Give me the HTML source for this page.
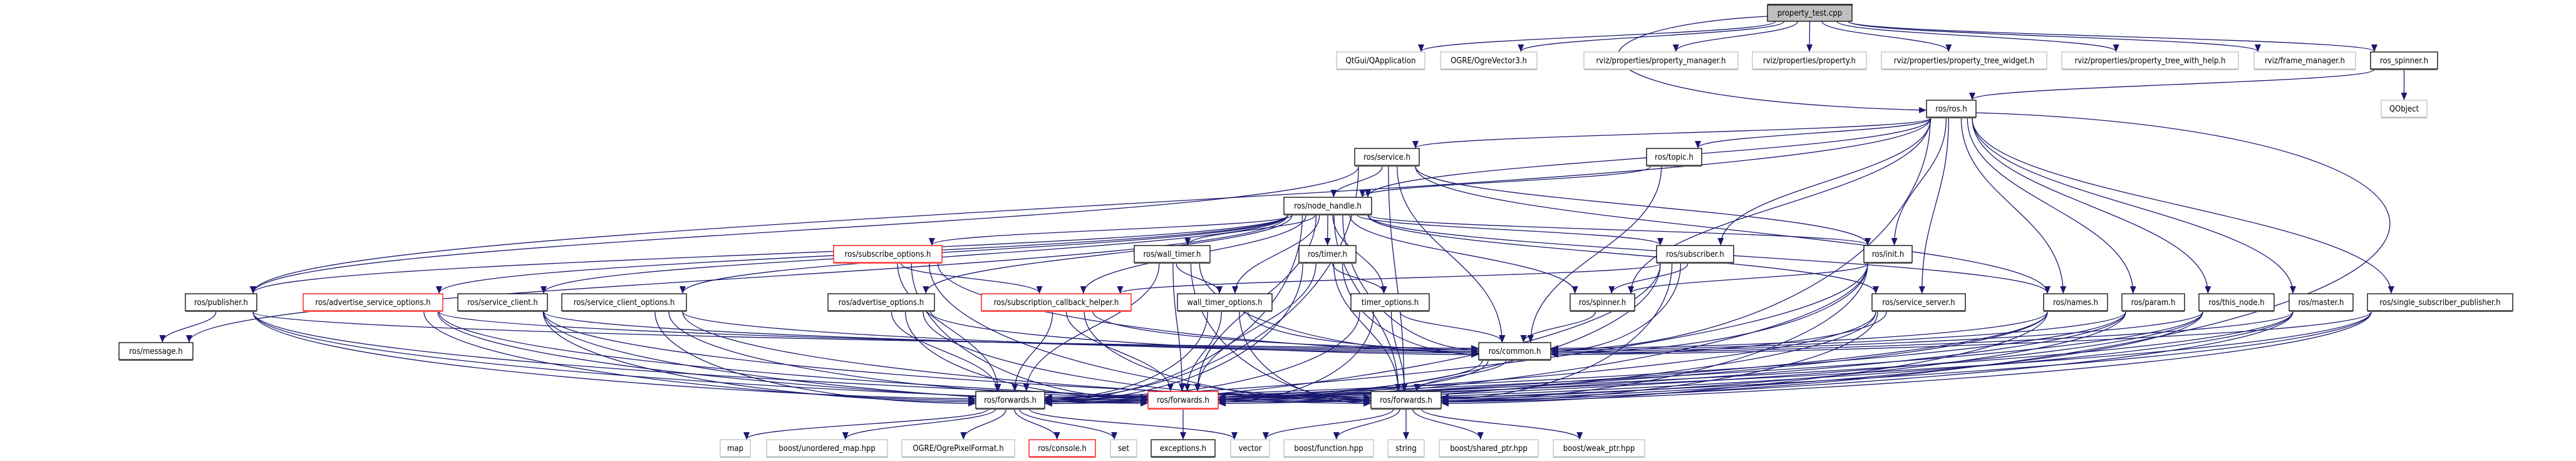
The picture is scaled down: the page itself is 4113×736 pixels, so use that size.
<!DOCTYPE html>
<html><head><meta charset="utf-8">
<style>
html,body{margin:0;padding:0;background:#fff;width:4113px;height:736px;overflow:hidden}
svg{display:block}
text{font-family:"DejaVu Sans Condensed","Liberation Sans",sans-serif;font-size:13px;fill:#000}
.b rect.m{fill:#fff;stroke:#000;stroke-width:1.3}
.g rect.m{fill:#fff;stroke:#bfbfbf;stroke-width:1.3}
.r rect.m{fill:#fff;stroke:#ff0000;stroke-width:1.3}
.p rect.m{fill:#bfbfbf;stroke:#000;stroke-width:1.3}
rect.s{fill:#bfbfbf}
.b rect.s,.p rect.s{fill:#555}
.r rect.s{fill:#ff5050}
</style></head>
<body>
<svg id="sv" width="4113" height="736" viewBox="0 0 4113 736" xmlns="http://www.w3.org/2000/svg">
<defs><marker id="ah" markerUnits="userSpaceOnUse" markerWidth="12" markerHeight="10" refX="11" refY="5" orient="auto"><path d="M0,0 L12,5 L0,10 z" fill="#191970"/></marker></defs>
<g id="edges" fill="none" stroke="#191970" stroke-width="1.3"></g>
<g id="nodes">
<g class="p"><rect class="s" x="2822" y="6" width="136" height="3"/><rect class="m" x="2822" y="8" width="135" height="26"/><text x="2889.5" y="25" text-anchor="middle">property_test.cpp</text></g>
<g class="g"><rect class="m" x="2134" y="83" width="141" height="27"/><rect class="s" x="2134" y="110" width="141" height="2"/><text x="2204.5" y="101" text-anchor="middle">QtGui/QApplication</text></g>
<g class="g"><rect class="m" x="2300" y="83" width="154" height="27"/><rect class="s" x="2300" y="110" width="154" height="2"/><text x="2377" y="101" text-anchor="middle">OGRE/OgreVector3.h</text></g>
<g class="g"><rect class="m" x="2529" y="83" width="246" height="27"/><rect class="s" x="2529" y="110" width="246" height="2"/><text x="2652" y="101" text-anchor="middle">rviz/properties/property_manager.h</text></g>
<g class="g"><rect class="m" x="2798" y="83" width="182" height="27"/><rect class="s" x="2798" y="110" width="182" height="2"/><text x="2889" y="101" text-anchor="middle">rviz/properties/property.h</text></g>
<g class="g"><rect class="m" x="3004" y="83" width="264" height="27"/><rect class="s" x="3004" y="110" width="264" height="2"/><text x="3136" y="101" text-anchor="middle">rviz/properties/property_tree_widget.h</text></g>
<g class="g"><rect class="m" x="3292" y="83" width="282" height="27"/><rect class="s" x="3292" y="110" width="282" height="2"/><text x="3433" y="101" text-anchor="middle">rviz/properties/property_tree_with_help.h</text></g>
<g class="g"><rect class="m" x="3599" y="83" width="162" height="27"/><rect class="s" x="3599" y="110" width="162" height="2"/><text x="3680" y="101" text-anchor="middle">rviz/frame_manager.h</text></g>
<g class="b"><rect class="m" x="3785" y="83" width="107" height="27"/><rect class="s" x="3785" y="110" width="107" height="2"/><text x="3838.5" y="101" text-anchor="middle">ros_spinner.h</text></g>
<g class="b"><rect class="m" x="3076" y="160" width="79" height="27"/><rect class="s" x="3076" y="187" width="79" height="2"/><text x="3115.5" y="178" text-anchor="middle">ros/ros.h</text></g>
<g class="g"><rect class="m" x="3802" y="160" width="73" height="27"/><rect class="s" x="3802" y="187" width="73" height="2"/><text x="3838.5" y="178" text-anchor="middle">QObject</text></g>
<g class="b"><rect class="m" x="2163" y="237" width="103" height="27"/><rect class="s" x="2163" y="264" width="103" height="2"/><text x="2214.5" y="255" text-anchor="middle">ros/service.h</text></g>
<g class="b"><rect class="m" x="2629" y="237" width="88" height="27"/><rect class="s" x="2629" y="264" width="88" height="2"/><text x="2673" y="255" text-anchor="middle">ros/topic.h</text></g>
<g class="b"><rect class="m" x="2050" y="315" width="140" height="27"/><rect class="s" x="2050" y="342" width="140" height="2"/><text x="2120" y="333" text-anchor="middle">ros/node_handle.h</text></g>
<g class="r"><rect class="m" x="1331" y="392" width="173" height="27"/><rect class="s" x="1331" y="419" width="173" height="2"/><text x="1417.5" y="410" text-anchor="middle">ros/subscribe_options.h</text></g>
<g class="b"><rect class="m" x="1811" y="392" width="121" height="27"/><rect class="s" x="1811" y="419" width="121" height="2"/><text x="1871.5" y="410" text-anchor="middle">ros/wall_timer.h</text></g>
<g class="b"><rect class="m" x="2074" y="392" width="91" height="27"/><rect class="s" x="2074" y="419" width="91" height="2"/><text x="2119.5" y="410" text-anchor="middle">ros/timer.h</text></g>
<g class="b"><rect class="m" x="2645" y="392" width="123" height="27"/><rect class="s" x="2645" y="419" width="123" height="2"/><text x="2706.5" y="410" text-anchor="middle">ros/subscriber.h</text></g>
<g class="b"><rect class="m" x="2976" y="392" width="77" height="27"/><rect class="s" x="2976" y="419" width="77" height="2"/><text x="3014.5" y="410" text-anchor="middle">ros/init.h</text></g>
<g class="b"><rect class="m" x="296" y="469" width="114" height="27"/><rect class="s" x="296" y="496" width="114" height="2"/><text x="353" y="487" text-anchor="middle">ros/publisher.h</text></g>
<g class="r"><rect class="m" x="484" y="469" width="223" height="27"/><rect class="s" x="484" y="496" width="223" height="2"/><text x="595.5" y="487" text-anchor="middle">ros/advertise_service_options.h</text></g>
<g class="b"><rect class="m" x="731" y="469" width="143" height="27"/><rect class="s" x="731" y="496" width="143" height="2"/><text x="802.5" y="487" text-anchor="middle">ros/service_client.h</text></g>
<g class="b"><rect class="m" x="897" y="469" width="199" height="27"/><rect class="s" x="897" y="496" width="199" height="2"/><text x="996.5" y="487" text-anchor="middle">ros/service_client_options.h</text></g>
<g class="b"><rect class="m" x="1322" y="469" width="170" height="27"/><rect class="s" x="1322" y="496" width="170" height="2"/><text x="1407" y="487" text-anchor="middle">ros/advertise_options.h</text></g>
<g class="r"><rect class="m" x="1567" y="469" width="239" height="27"/><rect class="s" x="1567" y="496" width="239" height="2"/><text x="1686.5" y="487" text-anchor="middle">ros/subscription_callback_helper.h</text></g>
<g class="b"><rect class="m" x="1880" y="469" width="151" height="27"/><rect class="s" x="1880" y="496" width="151" height="2"/><text x="1955.5" y="487" text-anchor="middle">wall_timer_options.h</text></g>
<g class="b"><rect class="m" x="2157" y="469" width="125" height="27"/><rect class="s" x="2157" y="496" width="125" height="2"/><text x="2219.5" y="487" text-anchor="middle">timer_options.h</text></g>
<g class="b"><rect class="m" x="2507" y="469" width="103" height="27"/><rect class="s" x="2507" y="496" width="103" height="2"/><text x="2558.5" y="487" text-anchor="middle">ros/spinner.h</text></g>
<g class="b"><rect class="m" x="2989" y="469" width="149" height="27"/><rect class="s" x="2989" y="496" width="149" height="2"/><text x="3063.5" y="487" text-anchor="middle">ros/service_server.h</text></g>
<g class="b"><rect class="m" x="3263" y="469" width="102" height="27"/><rect class="s" x="3263" y="496" width="102" height="2"/><text x="3314" y="487" text-anchor="middle">ros/names.h</text></g>
<g class="b"><rect class="m" x="3388" y="469" width="100" height="27"/><rect class="s" x="3388" y="496" width="100" height="2"/><text x="3438" y="487" text-anchor="middle">ros/param.h</text></g>
<g class="b"><rect class="m" x="3511" y="469" width="120" height="27"/><rect class="s" x="3511" y="496" width="120" height="2"/><text x="3571" y="487" text-anchor="middle">ros/this_node.h</text></g>
<g class="b"><rect class="m" x="3655" y="469" width="102" height="27"/><rect class="s" x="3655" y="496" width="102" height="2"/><text x="3706" y="487" text-anchor="middle">ros/master.h</text></g>
<g class="b"><rect class="m" x="3780" y="469" width="232" height="27"/><rect class="s" x="3780" y="496" width="232" height="2"/><text x="3896" y="487" text-anchor="middle">ros/single_subscriber_publisher.h</text></g>
<g class="b"><rect class="m" x="190" y="547" width="118" height="27"/><rect class="s" x="190" y="574" width="118" height="2"/><text x="249" y="565" text-anchor="middle">ros/message.h</text></g>
<g class="b"><rect class="m" x="2361" y="547" width="115" height="27"/><rect class="s" x="2361" y="574" width="115" height="2"/><text x="2418.5" y="565" text-anchor="middle">ros/common.h</text></g>
<g class="b"><rect class="m" x="1558" y="625" width="110" height="27"/><rect class="s" x="1558" y="652" width="110" height="2"/><text x="1613" y="643" text-anchor="middle">ros/forwards.h</text></g>
<g class="r"><rect class="m" x="1833" y="625" width="112" height="27"/><rect class="s" x="1833" y="652" width="112" height="2"/><text x="1889" y="643" text-anchor="middle">ros/forwards.h</text></g>
<g class="b"><rect class="m" x="2189" y="625" width="112" height="27"/><rect class="s" x="2189" y="652" width="112" height="2"/><text x="2245" y="643" text-anchor="middle">ros/forwards.h</text></g>
<g class="g"><rect class="m" x="1150" y="702" width="48" height="27"/><rect class="s" x="1150" y="729" width="48" height="2"/><text x="1174" y="720" text-anchor="middle">map</text></g>
<g class="g"><rect class="m" x="1224" y="702" width="193" height="27"/><rect class="s" x="1224" y="729" width="193" height="2"/><text x="1320.5" y="720" text-anchor="middle">boost/unordered_map.hpp</text></g>
<g class="g"><rect class="m" x="1440" y="702" width="180" height="27"/><rect class="s" x="1440" y="729" width="180" height="2"/><text x="1530" y="720" text-anchor="middle">OGRE/OgrePixelFormat.h</text></g>
<g class="r"><rect class="m" x="1643" y="702" width="106" height="27"/><rect class="s" x="1643" y="729" width="106" height="2"/><text x="1696" y="720" text-anchor="middle">ros/console.h</text></g>
<g class="g"><rect class="m" x="1773" y="702" width="42" height="27"/><rect class="s" x="1773" y="729" width="42" height="2"/><text x="1794" y="720" text-anchor="middle">set</text></g>
<g class="b"><rect class="m" x="1838" y="702" width="102" height="27"/><rect class="s" x="1838" y="729" width="102" height="2"/><text x="1889" y="720" text-anchor="middle">exceptions.h</text></g>
<g class="g"><rect class="m" x="1965" y="702" width="62" height="27"/><rect class="s" x="1965" y="729" width="62" height="2"/><text x="1996" y="720" text-anchor="middle">vector</text></g>
<g class="g"><rect class="m" x="2050" y="702" width="143" height="27"/><rect class="s" x="2050" y="729" width="143" height="2"/><text x="2121.5" y="720" text-anchor="middle">boost/function.hpp</text></g>
<g class="g"><rect class="m" x="2216" y="702" width="58" height="27"/><rect class="s" x="2216" y="729" width="58" height="2"/><text x="2245" y="720" text-anchor="middle">string</text></g>
<g class="g"><rect class="m" x="2298" y="702" width="158" height="27"/><rect class="s" x="2298" y="729" width="158" height="2"/><text x="2377" y="720" text-anchor="middle">boost/shared_ptr.hpp</text></g>
<g class="g"><rect class="m" x="2480" y="702" width="146" height="27"/><rect class="s" x="2480" y="729" width="146" height="2"/><text x="2553" y="720" text-anchor="middle">boost/weak_ptr.hpp</text></g>
</g>
</svg>
<script>
(function(){
var N={pt:[2822,6,2957,34],qt:[2134,83,2275,111],ov:[2300,83,2454,111],pm:[2529,83,2775,111],pp:[2798,83,2980,111],tw:[3004,83,3268,111],th:[3292,83,3574,111],fm:[3599,83,3761,111],rs:[3785,83,3892,111],
ros:[3076,160,3155,189],qo:[3802,160,3875,189],svc:[2163,237,2266,266],top:[2629,237,2717,266],nh:[2050,315,2190,343],
so:[1331,392,1504,421],wt:[1811,392,1932,421],tm:[2074,392,2165,421],sub:[2645,392,2768,421],ini:[2976,392,3053,421],
pub:[296,469,410,498],aso:[484,469,707,498],sc:[731,469,874,498],sco:[897,469,1096,498],ao:[1322,469,1492,498],sch:[1567,469,1806,498],wto:[1880,469,2031,498],tmo:[2157,469,2282,498],sp:[2507,469,2610,498],ss:[2989,469,3138,498],nm:[3263,469,3365,498],pa:[3388,469,3488,498],tn:[3511,469,3631,498],ma:[3655,469,3757,498],ssp:[3780,469,4012,498],
msg:[190,547,308,575],cm:[2361,547,2476,575],fa:[1558,625,1668,653],fb:[1833,625,1945,653],fc:[2189,625,2301,653],
map:[1150,702,1198,730],um:[1224,702,1417,730],opf:[1440,702,1620,730],con:[1643,702,1749,730],set:[1773,702,1815,730],exc:[1838,702,1940,730],vec:[1965,702,2027,730],fn:[2050,702,2193,730],str:[2216,702,2274,730],shp:[2298,702,2456,730],wkp:[2480,702,2626,730]};
var E=[];
function a(s,l){l.split(' ').forEach(function(t){E.push([s,t]);});}
a('pt','qt ov pm pp tw th fm rs');
a('rs','ros qo');
a('ros','svc top nh pub sub ini cm nm pa tn ma ssp ss sp');
a('svc','nh cm fa fc pub ini nm');
a('top','nh cm');
a('nh','so wt tm sub ini pub aso sc sco ao wto tmo sp ss nm cm fa fb fc msg sch');
a('so','sch cm fa fb fc');
a('wt','wto cm fa fb fc');
a('tm','tmo cm fa fb fc');
a('sub','sch sp cm fa fb fc');
a('ini','sp cm fa fb fc');
a('pub','msg cm fa fb fc');
['aso','sc','sco','ao','sch','wto','tmo','ss','nm','pa','tn','ma','ssp'].forEach(function(s){a(s,'cm fa fb fc');});
a('sp','cm');
a('cm','fa fb fc');
a('fa','map um opf con set vec');
a('fb','exc');
a('fc','vec fn str shp wkp');
var side={cm:1,fa:1,fb:1,fc:1};
var g=document.getElementById('edges'),ns='http://www.w3.org/2000/svg';
function cl(v,m){return Math.max(-m,Math.min(m,v));}
function add(d){var p=document.createElementNS(ns,'path');p.setAttribute('d',d);p.setAttribute('marker-end','url(#ah)');g.appendChild(p);}
var cnt={};
E.forEach(function(e){
 var s=N[e[0]],t=N[e[1]];
 var scx=(s[0]+s[2])/2,tcx=(t[0]+t[2])/2,sw=(s[2]-s[0])/2-6,tw=(t[2]-t[0])/2-6;
 var sx=scx+cl((tcx-scx)*0.08,sw), sy=s[3];
 if(side[e[1]] && Math.abs(tcx-scx)>(t[2]-t[0])*2.5){
  var left=scx<tcx; var k=e[1]+(left?'L':'R'); cnt[k]=(cnt[k]||0)+1;
  var tx=left?t[0]-1:t[2]+1; var ty=(t[1]+t[3])/2 + ((cnt[k]%5)-2)*2.5;
  var mx=left?tx-Math.min(300,Math.abs(tx-sx)*0.5):tx+Math.min(300,Math.abs(tx-sx)*0.5);
  add('M'+sx.toFixed(1)+','+sy+' C'+sx.toFixed(1)+','+(sy+(ty-sy)*0.6).toFixed(1)+' '+mx.toFixed(1)+','+ty.toFixed(1)+' '+tx+','+ty.toFixed(1));
  return;
 }
 var tx=tcx+cl((scx-tcx)*0.1,tw), ty=t[1]-1;
 var dy=ty-sy;
 add('M'+sx.toFixed(1)+','+sy+' C'+sx.toFixed(1)+','+(sy+dy*0.45).toFixed(1)+' '+tx.toFixed(1)+','+(ty-dy*0.45).toFixed(1)+' '+tx.toFixed(1)+','+ty);
});
add('M2822,26 C2470,45 2470,160 3075,176');
add('M3155,180 C4150,210 4140,600 2302,641');
})();
</script>
</body></html>
